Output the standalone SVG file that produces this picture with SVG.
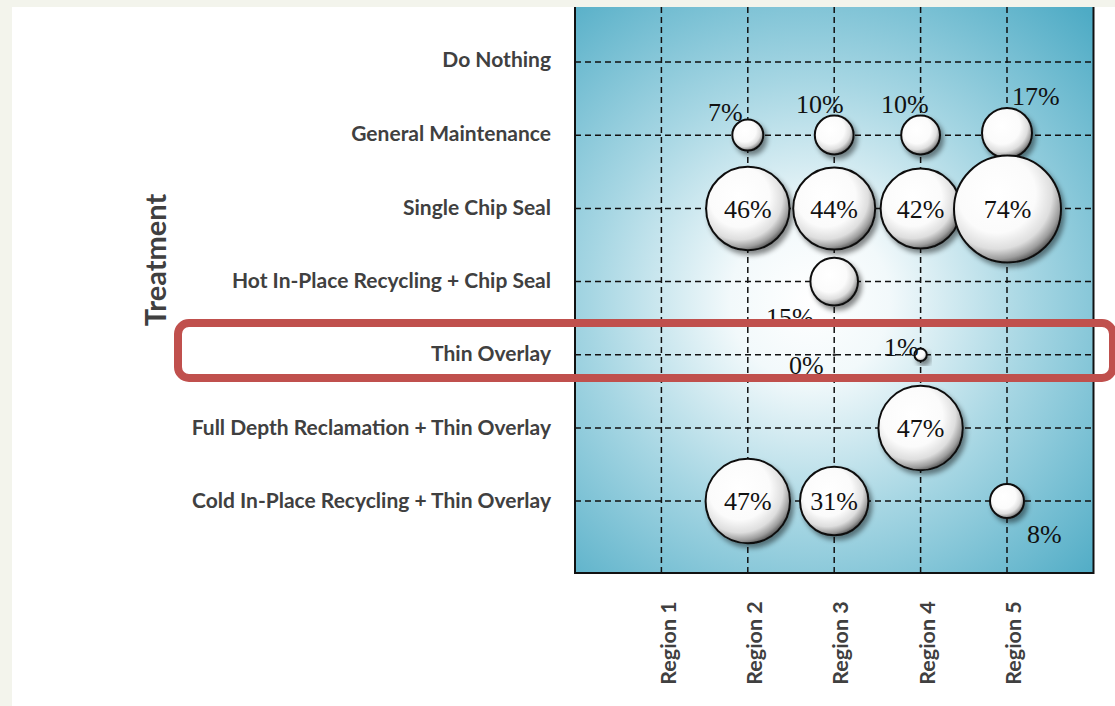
<svg xmlns="http://www.w3.org/2000/svg" width="1115" height="706" viewBox="0 0 1115 706">
<defs>
<radialGradient id="bg" gradientUnits="userSpaceOnUse" cx="810" cy="300" r="400">
<stop offset="0" stop-color="#ffffff"/>
<stop offset="0.2" stop-color="#f2f9fb"/>
<stop offset="0.55" stop-color="#a6d6e3"/>
<stop offset="1" stop-color="#4eabc5"/>
</radialGradient>
<radialGradient id="ball" cx="0.4" cy="0.36" r="0.66">
<stop offset="0" stop-color="#ffffff"/>
<stop offset="0.55" stop-color="#fbfbfb"/>
<stop offset="0.78" stop-color="#dedede"/>
<stop offset="0.92" stop-color="#9c9c9c"/>
<stop offset="1" stop-color="#5e5e5e"/>
</radialGradient>
<filter id="sh" x="-30%" y="-30%" width="170%" height="170%">
<feDropShadow dx="3" dy="4" stdDeviation="2.5" flood-color="#000" flood-opacity="0.45"/>
</filter>
<clipPath id="plotclip"><rect x="575" y="7" width="518" height="566"/></clipPath>
</defs>
<style>
.lab{font-family:Lato,"Open Sans",sans-serif;font-weight:bold;font-size:21px;fill:#404040;text-anchor:end}
.reg{font-family:Lato,"Open Sans",sans-serif;font-weight:bold;font-size:21.5px;fill:#404040;text-anchor:middle}
.pct{font-family:"Liberation Serif","Times New Roman",serif;font-size:26px;fill:#111}
.pc{text-anchor:middle}
.grid{stroke:#111;stroke-width:1.5;stroke-dasharray:6,4;fill:none}
.b{fill:url(#ball);stroke:#111;stroke-width:2;filter:url(#sh)}
</style>
<rect x="0" y="0" width="1115" height="706" fill="#f3f4ec"/>
<rect x="12" y="7" width="1103" height="699" fill="#ffffff"/>

<g id="plot-area">
<rect x="575" y="7" width="518" height="566" fill="url(#bg)"/>
</g>

<g id="connectors" clip-path="url(#plotclip)">
<path class="grid" d="M575 62H1093M575 135.2H1093M575 208.4H1093M575 281.6H1093M575 354.8H1093M575 428H1093M575 501H1093"/>
<path class="grid" d="M661.4 7V573M747.8 7V573M834.2 7V573M920.6 7V573M1007 7V573"/>
</g>
<g id="axes">
<path d="M575 7V573H1093.5V7" fill="none" stroke="#111" stroke-width="2"/>
</g>

<g id="row-labels">
<text class="lab" x="551" y="67">Do Nothing</text>
<text class="lab" x="551" y="141">General Maintenance</text>
<text class="lab" x="551" y="215">Single Chip Seal</text>
<text class="lab" x="551" y="288">Hot In-Place Recycling + Chip Seal</text>
<text class="lab" x="551" y="361">Thin Overlay</text>
<text class="lab" x="551" y="435">Full Depth Reclamation + Thin Overlay</text>
<text class="lab" x="551" y="508">Cold In-Place Recycling + Thin Overlay</text>
</g>
<g id="axis-title">
<text transform="translate(166,260) rotate(-90)" font-family="Lato,'Open Sans',sans-serif" font-weight="bold" font-size="29" fill="#404040" text-anchor="middle">Treatment</text>
</g>
<g id="region-labels">
<text class="reg" transform="translate(676,643) rotate(-90)">Region 1</text>
<text class="reg" transform="translate(762,643) rotate(-90)">Region 2</text>
<text class="reg" transform="translate(848,643) rotate(-90)">Region 3</text>
<text class="reg" transform="translate(935,643) rotate(-90)">Region 4</text>
<text class="reg" transform="translate(1021,643) rotate(-90)">Region 5</text>
</g>

<g id="gm-r2"><circle class="b" cx="747.8" cy="135" r="15.5"/><text class="pct" x="708" y="121">7%</text></g>
<g id="gm-r3"><circle class="b" cx="834.2" cy="135" r="19.4"/><text class="pct" x="796" y="113">10%</text></g>
<g id="gm-r4"><circle class="b" cx="920.6" cy="135" r="19.4"/><text class="pct" x="881" y="113">10%</text></g>
<g id="gm-r5"><circle class="b" cx="1007" cy="133" r="25"/><text class="pct" x="1012" y="105">17%</text></g>

<g id="scs-r2"><circle class="b" cx="747.8" cy="208.5" r="41.7"/><text class="pct pc" x="747.8" y="217.5">46%</text></g>
<g id="scs-r3"><circle class="b" cx="834.2" cy="208.5" r="41"/><text class="pct pc" x="834.2" y="217.5">44%</text></g>
<g id="scs-r4"><circle class="b" cx="920.6" cy="208.5" r="40"/><text class="pct pc" x="920.6" y="217.5">42%</text></g>
<g id="scs-r5"><circle class="b" cx="1007.5" cy="209" r="53.5"/><text class="pct pc" x="1007.5" y="218">74%</text></g>

<g id="hip-r3"><circle class="b" cx="834.2" cy="281.6" r="23.8"/><text class="pct" x="766" y="326">15%</text></g>

<g id="to-r3"><circle cx="834.2" cy="354.8" r="1.6" fill="#333"/><text class="pct" x="789" y="374">0%</text></g>
<g id="to-r4"><circle class="b" cx="920.6" cy="354.8" r="6.2"/><text class="pct" x="884" y="356">1%</text></g>

<g id="fdr-r4"><circle class="b" cx="920.6" cy="428" r="42.2"/><text class="pct pc" x="920.6" y="437">47%</text></g>

<g id="cir-r2"><circle class="b" cx="747.8" cy="501" r="42.2"/><text class="pct pc" x="747.8" y="510">47%</text></g>
<g id="cir-r3"><circle class="b" cx="834.2" cy="501" r="34.2"/><text class="pct pc" x="834.2" y="510">31%</text></g>
<g id="cir-r5"><circle class="b" cx="1007" cy="501" r="17"/><text class="pct" x="1027" y="543">8%</text></g>

<g id="highlight">
<rect x="178" y="323" width="935" height="55" rx="11" ry="11" fill="none" stroke="#c0504d" stroke-width="8"/>
</g>
</svg>
